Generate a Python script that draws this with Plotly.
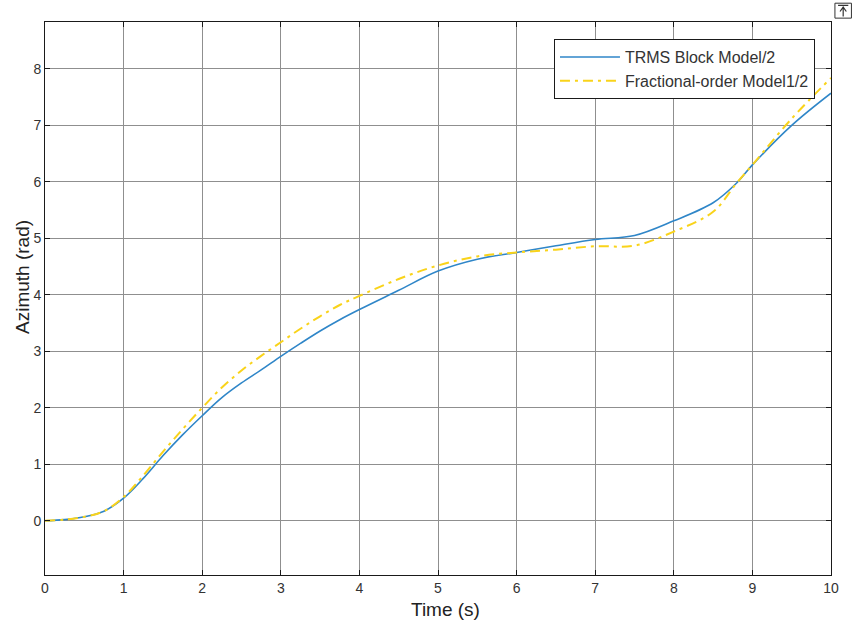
import plotly.graph_objects as go

# Time samples (s)
time_s = [0, 0.25, 0.5, 0.75, 1.0, 1.25, 1.5, 1.75, 2.0, 2.25, 2.5, 2.75, 3.0,
          3.25, 3.5, 3.75, 4.0, 4.5, 5.0, 5.5, 6.0, 6.5, 7.0, 7.5, 8.0, 8.5,
          8.8, 9.0, 9.5, 10.0]

# Azimuth responses (rad)
trms_block = [0, 0.02, 0.07, 0.17, 0.40, 0.75, 1.15, 1.52, 1.86, 2.18, 2.44,
              2.67, 2.91, 3.14, 3.36, 3.56, 3.74, 4.08, 4.42, 4.63, 4.75,
              4.87, 4.98, 5.05, 5.31, 5.63, 5.98, 6.30, 7.00, 7.57]
fractional = [0, 0.02, 0.07, 0.17, 0.42, 0.80, 1.22, 1.62, 2.00, 2.36, 2.66,
              2.92, 3.16, 3.40, 3.62, 3.82, 3.98, 4.28, 4.52, 4.68, 4.75,
              4.80, 4.86, 4.87, 5.12, 5.47, 5.98, 6.30, 7.12, 7.84]

x_ticks = list(range(0, 11))
y_ticks = list(range(0, 9))

FONT = "Liberation Sans, Arial, sans-serif"
GRID = "#8f8f8f"

fig = go.Figure()
fig.add_trace(go.Scatter(
    x=time_s, y=trms_block, mode="lines", name="TRMS Block Model/2",
    line=dict(color="#2f86c8", width=1.6, shape="spline", smoothing=1.0),
))
fig.add_trace(go.Scatter(
    x=time_s, y=fractional, mode="lines", name="Fractional-order Model1/2",
    line=dict(color="#f9d31a", width=2.0, shape="spline", smoothing=1.0,
              dash="10px,5px,3px,5px"),
))

axis_common = dict(
    showline=True, linecolor="#1a1a1a", linewidth=1, mirror="ticks",
    ticks="inside", ticklen=5, tickcolor="#1a1a1a", tickwidth=1,
    showgrid=True, gridcolor=GRID, gridwidth=1, zeroline=False,
    tickfont=dict(family=FONT, size=14, color="#333333"),
)

fig.update_xaxes(range=[0, 10], tickvals=x_ticks, **axis_common)
fig.update_yaxes(range=[-0.96, 8.83], tickvals=y_ticks, **axis_common)

fig.update_layout(
    width=853, height=621,
    margin=dict(l=45, r=22, t=22, b=46),
    paper_bgcolor="white", plot_bgcolor="white",
    font=dict(family=FONT),
    showlegend=True,
    legend=dict(
        x=0.9796, y=0.969, xanchor="right", yanchor="top",
        bgcolor="white", bordercolor="#1a1a1a", borderwidth=1,
        font=dict(family=FONT, size=16, color="#333333"),
        itemwidth=60, tracegroupgap=0,
    ),
)

# Axis labels
fig.add_annotation(text="Time (s)", xref="paper", yref="paper",
                   x=(445 - 45) / 786, y=(575 - 609) / 553,
                   xanchor="center", yanchor="middle", showarrow=False,
                   font=dict(family=FONT, size=19, color="#222222"))
fig.add_annotation(text="Azimuth (rad)", xref="paper", yref="paper",
                   x=(22 - 45) / 786, y=(575 - 277) / 553, textangle=-90,
                   xanchor="center", yanchor="middle", showarrow=False,
                   font=dict(family=FONT, size=19, color="#222222"))

# Small export button in the upper-right corner
fig.add_shape(type="rect", xref="paper", yref="paper",
              x0=1.005, x1=1.026, y0=1.007, y1=1.034,
              line=dict(color="#333333", width=1), fillcolor="white")
fig.add_shape(type="path", xref="paper", yref="paper",
              path="M 1.0155 1.010 L 1.0155 1.026 M 1.0115 1.019 L 1.0155 1.027 L 1.0195 1.019 M 1.009 1.030 L 1.022 1.030",
              line=dict(color="#333333", width=1.2))

fig.write_html("out.html")
